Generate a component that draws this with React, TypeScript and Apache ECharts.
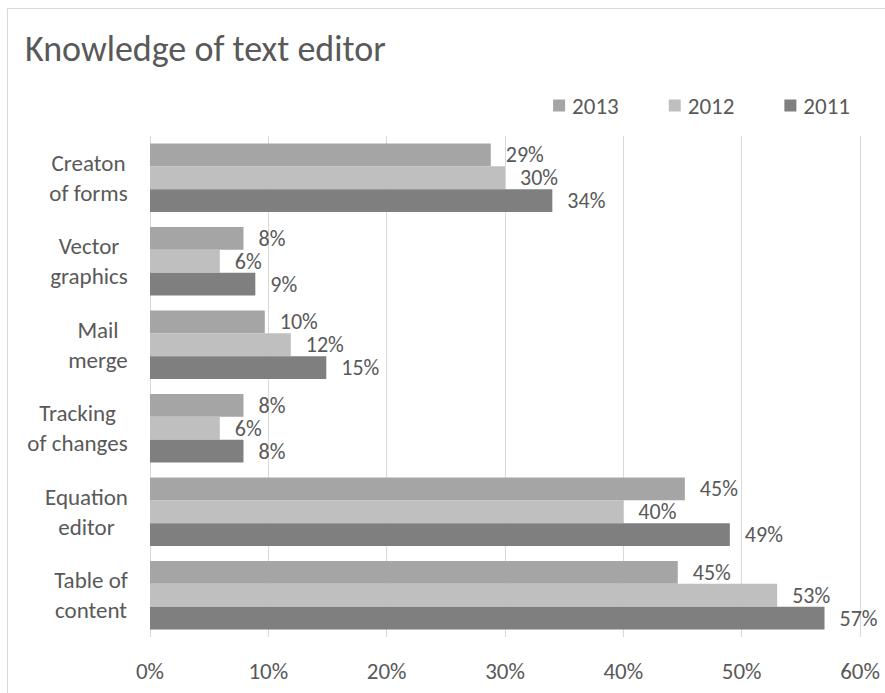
import React, { useEffect, useRef } from "react";
import * as echarts from "echarts";

const categories = [
  "Creaton\nof forms",
  "Vector\ngraphics",
  "Mail\nmerge",
  "Tracking\nof changes",
  "Equation\neditor",
  "Table of\ncontent",
];
const seriesNames = ["2013", "2012", "2011"];
const values2013 = [28.8, 7.9, 9.7, 7.9, 45.2, 44.6];
const values2012 = [30, 5.9, 11.9, 5.9, 40, 53];
const values2011 = [34, 8.9, 14.9, 7.9, 49, 57];
const xTicks = [0, 10, 20, 30, 40, 50, 60];
const colors = ["#a5a5a5", "#bfbfbf", "#7f7f7f"];

const FONT = "Carlito, 'Open Sans', sans-serif";
const TEXT = "#595959";
const CAT_SIZE = 23;

export default function App() {
  const ref = useRef<HTMLDivElement>(null);
  useEffect(() => {
    document.body.style.overflow = "hidden";
    const chart = echarts.init(ref.current!, null, { renderer: "svg" });
    const data = [values2013, values2012, values2011];

    // block widths so that the lines of each category label are centred within their block
    const canvas = document.createElement("canvas");
    const ctx = canvas.getContext("2d")!;
    ctx.font = `${CAT_SIZE}px ${FONT}`;
    const rich: Record<string, any> = {};
    categories.forEach((c, i) => {
      const w = Math.max(...c.split("\n").map((l) => ctx.measureText(l).width));
      rich["b" + i] = {
        width: Math.ceil(w),
        align: "center",
        fontFamily: FONT,
        fontSize: CAT_SIZE,
        lineHeight: 30,
        color: TEXT,
      };
    });

    chart.setOption({
      animation: false,
      backgroundColor: "#ffffff",
      textStyle: { fontFamily: FONT, color: TEXT },
      title: {
        text: "Knowledge of text editor",
        left: 20,
        top: 26,
        textStyle: { fontFamily: FONT, fontSize: 36, fontWeight: "normal", color: TEXT },
      },
      legend: {
        data: seriesNames,
        right: 30,
        top: 89,
        icon: "rect",
        itemWidth: 12,
        itemHeight: 12,
        itemGap: 50,
        textStyle: { fontFamily: FONT, fontSize: 23, color: TEXT, padding: [0, 0, 0, 2] },
      },
      graphic: [
        {
          type: "rect",
          shape: { x: 7.5, y: 8.5, width: 900, height: 700 },
          style: { fill: "none", stroke: "#d9d9d9", lineWidth: 1 },
          silent: true,
        },
      ],
      grid: { left: 150, right: 25, top: 136, bottom: 56, containLabel: false },
      xAxis: {
        type: "value",
        min: xTicks[0],
        max: xTicks[xTicks.length - 1],
        interval: 10,
        axisLine: { show: false },
        axisTick: { show: false },
        splitLine: { show: true, lineStyle: { color: "#d9d9d9", width: 1 } },
        axisLabel: {
          formatter: (v: number) => v + "%",
          fontFamily: FONT,
          fontSize: 23,
          color: TEXT,
          margin: 22,
        },
      },
      yAxis: {
        type: "category",
        data: categories,
        inverse: true,
        axisLine: { show: false },
        axisTick: { show: false },
        axisLabel: {
          fontFamily: FONT,
          fontSize: CAT_SIZE,
          color: TEXT,
          lineHeight: 30,
          align: "right",
          margin: 22,
          formatter: (value: string, idx: number) =>
            value
              .split("\n")
              .map((l) => `{b${idx}|${l}}`)
              .join("\n"),
          rich,
        },
      },
      series: seriesNames.map((name, i) => ({
        name,
        type: "bar",
        data: data[i],
        barGap: "0%",
        barCategoryGap: "18%",
        itemStyle: { color: colors[i] },
        label: {
          show: true,
          position: "right",
          distance: 15,
          formatter: (p: any) => Math.round(p.value) + "%",
          fontFamily: FONT,
          fontSize: 22,
          color: TEXT,
        },
      })),
    });
    return () => chart.dispose();
  }, []);
  return (
    <div
      ref={ref}
      style={{ position: "fixed", left: 0, top: 0, width: 885, height: 693 }}
    />
  );
}
